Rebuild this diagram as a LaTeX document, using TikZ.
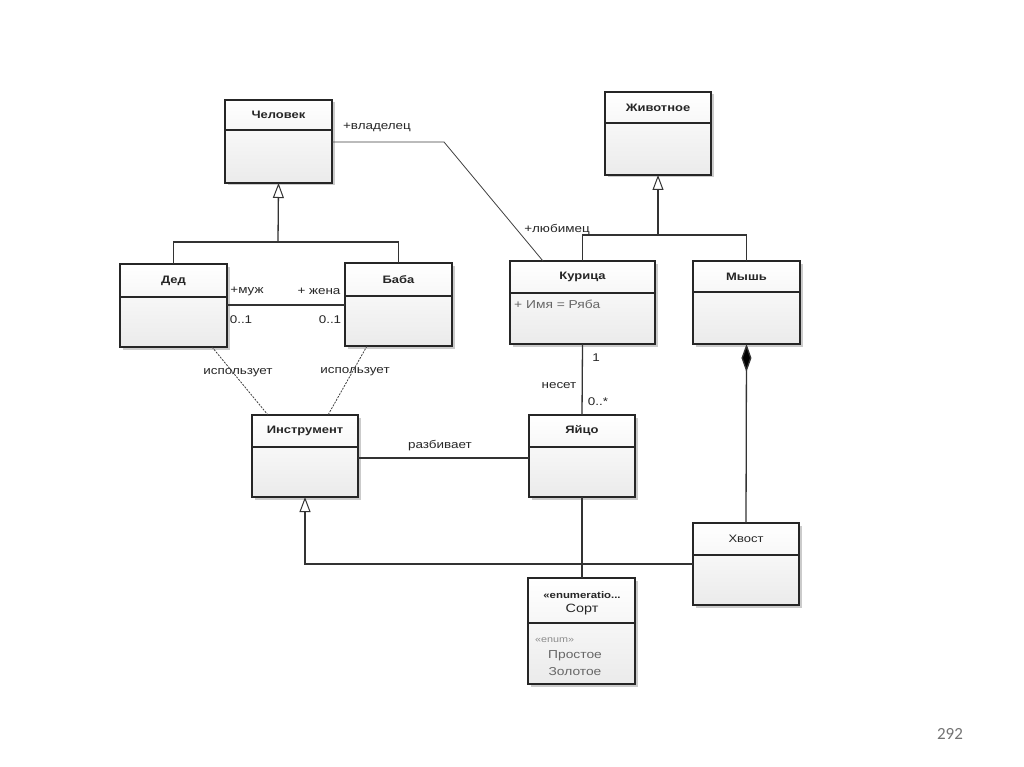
\documentclass[tikz,border=0pt]{standalone}
\usepackage{fontspec}
\setmainfont{Liberation Sans}
\newfontfamily\umlfont[FakeStretch=1.2]{Liberation Sans}
\newfontfamily\pagefont{Carlito}
\usetikzlibrary{arrows.meta,calc,shadows}
\tikzset{
  cls/.style={draw=black!85, line width=1.3pt, top color=white, bottom color=black!8,
    drop shadow={shadow xshift=2.5pt, shadow yshift=-2.5pt, fill=black!40, opacity=0.5},
    inner sep=0pt, outer sep=0pt},
  hdr/.style={draw=black!85, line width=1.1pt},
  ttl/.style={font=\umlfont\fontsize{10.8}{12}\selectfont\bfseries, text=black!85, inner sep=1pt},
  ttlr/.style={font=\umlfont\fontsize{10.8}{12}\selectfont, text=black!85, inner sep=1pt},
  lbl/.style={font=\umlfont\fontsize{11.2}{13}\selectfont, text=black!85, inner sep=1pt},
  attr/.style={font=\umlfont\fontsize{11.5}{13}\selectfont, text=black!60, inner sep=1pt},
  conn/.style={draw=black!80, line width=1.3pt},
  assoc/.style={draw=black!75, line width=0.8pt},
  dep/.style={draw=black!75, line width=0.8pt, dash pattern=on 2pt off 1.2pt},
  gen/.style={conn, -{Triangle[open, width=11pt, length=15pt, fill=white, line width=1pt]}},
  comp/.style={conn, -{Diamond[width=10pt, length=28pt, fill=black]}},
  pagenum/.style={font=\pagefont\fontsize{17}{19}\selectfont, text=black!55},
}
\newcommand\umlclass[8]{%
  \node[cls, anchor=north west, minimum width={(#4-#2)*1pt}, minimum height={(#5-#3)*1pt}] (#1) at (#2,#3) {};
  \draw[hdr] (#2,#6) -- (#4,#6);
  \node[#8] (#1-t) at ({(#2+#4)/2},{(#3+#6)/2}) {#7};}
\begin{document}
\begin{tikzpicture}[x=1pt,y=-1pt]
\useasboundingbox[fill=white] (0,0) rectangle (1024,767);

\umlclass{chel}{225}{100}{332}{183}{130}{Человек}{ttl}
\umlclass{zhiv}{605}{92}{711}{175}{123}{Животное}{ttl}
\umlclass{ded}{120}{264}{227}{347}{297}{Дед}{ttl}
\umlclass{baba}{345}{263}{452}{346}{296}{Баба}{ttl}
\umlclass{kur}{510}{261}{655}{344}{293}{Курица}{ttl}
\umlclass{mysh}{693}{261}{800}{344}{292}{Мышь}{ttl}
\umlclass{instr}{252}{415}{358}{497}{447}{Инструмент}{ttl}
\umlclass{egg}{529}{415}{635}{497}{447}{Яйцо}{ttl}
\umlclass{hvost}{693}{523}{799}{605}{555}{Хвост}{ttlr}

% enumeration box
\node[cls, anchor=north west, minimum width=107pt, minimum height=106pt] (sort) at (528,578) {};
\draw[hdr] (528,623) -- (635,623);
\node[lbl, font=\umlfont\fontsize{9.5}{11}\selectfont\bfseries] (sort-s) at (582,595) {«enumeratio...};
\node[ttlr, font=\umlfont\fontsize{12}{14}\selectfont] (sort-t) at (582,610) {Сорт};
\node[attr, anchor=west, font=\umlfont\fontsize{9}{10}\selectfont, text=black!45] (sort-e) at (534,640) {«enum»};
\node[attr] (sort-a) at (575,656) {Простое};
\node[attr] (sort-b) at (575,672) {Золотое};

% attribute of Курица
\node[attr, anchor=west] (kur-a) at (513,304) {+ Имя = Ряба};

% generalization Дед, Баба -> Человек
\coordinate (g1) at (278,242);
\draw[conn] (ded.north) |- (g1) -| (baba.north);
\draw[gen] (g1) -- (chel.south);

% generalization Курица, Мышь -> Животное
\coordinate (g2) at (658,235);
\draw[conn] (kur.north) |- (g2) -| (mysh.north);
\draw[gen] (g2) -- (zhiv.south);

% association Человек - Курица
\coordinate (a1) at (444,142);
\coordinate (a2) at ($(kur.north west)+(33,0)$);
\draw[assoc] (chel.east |- a1) -- (a1) -- (a2);
\node[lbl] (l-vl) at (377,127) {+владелец};
\node[lbl] (l-lb) at (557,230) {+любимец};

% association Дед - Баба
\coordinate (m1) at (0,305);
\draw[conn] (ded.east |- m1) -- (baba.west |- m1);
\node[lbl] (l-muzh) at (247,291) {+муж};
\node[lbl] (l-zhena) at (319,291) {+ жена};
\node[lbl] (l-m1) at (241,320) {0..1};
\node[lbl] (l-m2) at (330,320) {0..1};

% dependencies "использует"
\draw[dep] ($(ded.south west)+(92,0)$) -- ($(instr.north west)+(16,0)$);
\draw[dep] ($(baba.south west)+(22,0)$) -- ($(instr.north west)+(76,0)$);
\node[lbl] (l-u1) at (238,373) {использует};
\node[lbl] (l-u2) at (355,372) {использует};

% Курица - Яйцо
\draw[conn] (kur.south) -- (egg.north);
\node[lbl] (l-1) at (596,358) {1};
\node[lbl] (l-nes) at (559,386) {несет};
\node[lbl] (l-0n) at (598,402) {0..*};

% Инструмент - Яйцо
\coordinate (r1) at (0,458);
\draw[conn] (instr.east |- r1) -- (egg.west |- r1);
\node[lbl] (l-raz) at (440,446) {разбивает};

% composition Мышь - Хвост
\draw[comp] (hvost.north) -- (mysh.south);

% Яйцо - Сорт
\draw[conn] (egg.south) -- (sort.north -| egg.south);

% generalization Хвост -> Инструмент
\draw[gen] (hvost.west) -| (instr.south);

\node[pagenum] (pg) at (950,734) {292};
\end{tikzpicture}
\end{document}
